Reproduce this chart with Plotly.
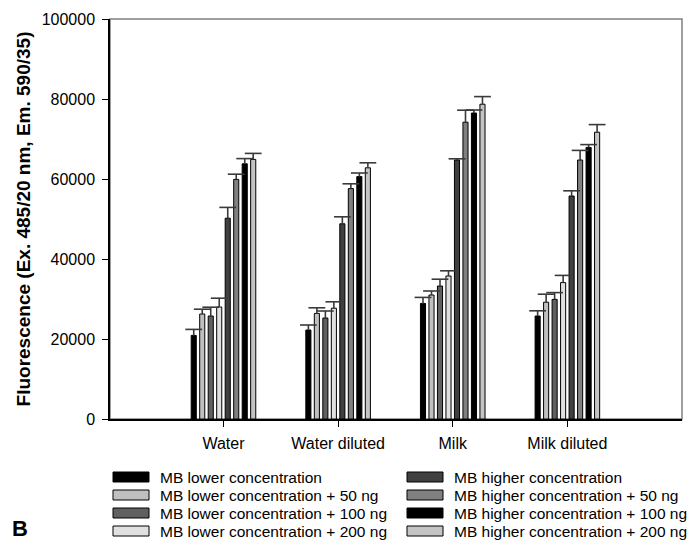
import plotly.graph_objects as go

categories = ["Water", "Water diluted", "Milk", "Milk diluted"]

series_names = [
    "MB lower concentration",
    "MB lower concentration + 50 ng",
    "MB lower concentration + 100 ng",
    "MB lower concentration + 200 ng",
    "MB higher concentration",
    "MB higher concentration + 50 ng",
    "MB higher concentration + 100 ng",
    "MB higher concentration + 200 ng",
]

lower_0 = [20900, 22250, 28900, 25750]
lower_50 = [26250, 26400, 31000, 29200]
lower_100 = [25750, 25250, 33250, 29900]
lower_200 = [28000, 27700, 35750, 34100]
higher_0 = [50200, 48800, 64750, 55750]
higher_50 = [59900, 57600, 74200, 64750]
higher_100 = [63800, 60600, 76500, 67900]
higher_200 = [64900, 62800, 78700, 71700]

err_lower_0 = [1500, 1250, 1500, 1300]
err_lower_50 = [1200, 1400, 1000, 2000]
err_lower_100 = [2200, 1750, 1700, 1700]
err_lower_200 = [2200, 1600, 1300, 1800]
err_higher_0 = [2700, 1750, 300, 1300]
err_higher_50 = [1300, 1200, 3000, 2400]
err_higher_100 = [1300, 900, 750, 700]
err_higher_200 = [1500, 1250, 1900, 1900]

series_values = [lower_0, lower_50, lower_100, lower_200,
                 higher_0, higher_50, higher_100, higher_200]
series_errors = [err_lower_0, err_lower_50, err_lower_100, err_lower_200,
                 err_higher_0, err_higher_50, err_higher_100, err_higher_200]
series_colors = ["#000000", "#c0c0c0", "#606060", "#e0e0e0",
                 "#404040", "#808080", "#000000", "#c4c4c4"]

y_ticks = [0, 20000, 40000, 60000, 80000, 100000]

FONT = "Liberation Sans, Arial, sans-serif"
ERR_COLOR = "#3a3a3a"

fig = go.Figure()
for i, (name, vals, errs, col) in enumerate(zip(series_names, series_values, series_errors, series_colors)):
    grp = "g%d" % i
    fig.add_trace(go.Bar(
        x=categories, y=vals, name=name, offsetgroup=grp,
        marker=dict(color=col, line=dict(color="#000000", width=1)),
        error_y=dict(type="data", symmetric=False, array=errs,
                     arrayminus=[0] * len(errs), color=ERR_COLOR,
                     thickness=1.6, width=0),
        showlegend=False,
    ))
for i, (vals, errs) in enumerate(zip(series_values, series_errors)):
    grp = "g%d" % i
    fig.add_trace(go.Scatter(
        x=categories, y=[v + e for v, e in zip(vals, errs)], mode="markers",
        offsetgroup=grp,
        marker=dict(symbol="line-ew", size=12, color=ERR_COLOR,
                    line=dict(color=ERR_COLOR, width=1.6)),
        showlegend=False, hoverinfo="skip",
    ))

# plot area geometry in pixels
L, R, T, B = 110, 682, 19, 419
W, H = 688, 541


def px(xp):
    return (xp - L) / (R - L)


def py(yp):
    return (B - yp) / (B - T)


shapes = [dict(type="rect", xref="paper", yref="paper", x0=0, x1=1, y0=0, y1=1,
               line=dict(color="#808080", width=1.5), layer="below")]
annotations = []

# custom legend
rows_y = [477, 495, 513, 531]
cols = [(113, 149, 158), (407, 443, 452)]
for i, (name, col) in enumerate(zip(series_names, series_colors)):
    c = cols[i // 4]
    yc = rows_y[i % 4]
    shapes.append(dict(type="rect", xref="paper", yref="paper",
                       x0=px(c[0]), x1=px(c[1]), y0=py(yc + 5), y1=py(yc - 5),
                       fillcolor=col, line=dict(color="#000000", width=1)))
    annotations.append(dict(xref="paper", yref="paper", x=px(c[2]), y=py(yc),
                            xanchor="left", yanchor="middle", showarrow=False,
                            text=name, font=dict(family=FONT, size=15.5, color="#000000")))

annotations.append(dict(xref="paper", yref="paper", x=px(20), y=py(528),
                        xanchor="center", yanchor="middle", showarrow=False,
                        text="<b>B</b>", font=dict(family=FONT, size=22, color="#000000")))

fig.update_layout(
    width=W, height=H,
    margin=dict(l=L, r=W - R, t=T, b=H - B),
    paper_bgcolor="white", plot_bgcolor="white",
    barmode="group", bargap=0.407, bargroupgap=0.4,
    scattermode="group", scattergap=0.407,
    font=dict(family=FONT, size=16, color="#000000"),
    shapes=shapes, annotations=annotations,
    showlegend=False,
)
fig.update_xaxes(
    type="category", range=[-0.99, 4.0],
    showline=True, linecolor="#000000", linewidth=1.5,
    ticks="outside", ticklen=6, tickwidth=1, tickcolor="#000000",
    ticklabelstandoff=3,
    showgrid=False, zeroline=False,
    tickfont=dict(family=FONT, size=16, color="#000000"),
)
fig.update_yaxes(
    range=[0, 100000], tickvals=y_ticks, ticktext=[str(v) for v in y_ticks],
    showline=True, linecolor="#000000", linewidth=1.5,
    ticks="outside", ticklen=6, tickwidth=1, tickcolor="#000000",
    ticklabelstandoff=4,
    showgrid=False, zeroline=False,
    tickfont=dict(family=FONT, size=16, color="#000000"),
    title=dict(text="<b>Fluorescence (Ex. 485/20 nm, Em. 590/35)</b>",
               font=dict(family=FONT, size=19, color="#000000"), standoff=6),
)

fig.write_html("out.html", config={"displayModeBar": False},
               post_script="document.body.style.margin='0';")
